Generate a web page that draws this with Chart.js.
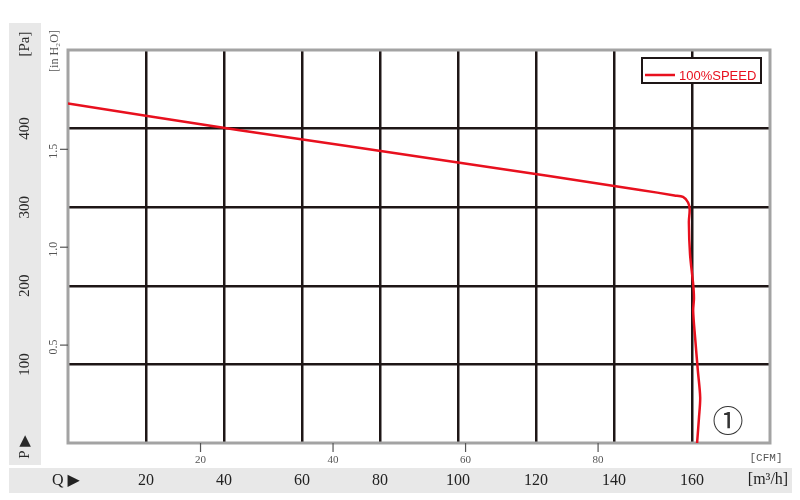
<!DOCTYPE html>
<html>
<head>
<meta charset="utf-8">
<script src="https://cdn.jsdelivr.net/npm/chart.js@4.4.1/dist/chart.umd.min.js"></script>
<style>
  html, body { margin: 0; padding: 0; background: #ffffff; }
  #chart { display: block; }
</style>
</head>
<body>
<canvas id="chart" width="800" height="500"></canvas>
<script>
// P-Q curve (m3/h, Pa)
const flowM3h = [0, 44, 100, 146.7, 155.5, 157.7, 159.0, 159.4, 159.2, 159.5, 160.3, 160.5, 160.3, 160.8, 161.5, 162.1, 161.8, 161.3];
const pressurePa = [432, 398, 357, 322, 315, 313, 306, 297, 281, 240, 202, 184, 168, 134, 92, 58, 33, 0];

// tick labels
const flowTicks = [20, 40, 60, 80, 100, 120, 140, 160];
const paTicks = [100, 200, 300, 400];
const cfmTicks = [20, 40, 60, 80];
const inH2OTicks = ['0.5', '1.0', '1.5'];

const seriesLabel = '100%SPEED';
const CFM_TO_M3H = 1.699;
const INH2O_TO_PA = 249.09;

const RED = '#e8101e';
const GRID = '#1e1616';
const FRAME = '#a3a3a3';
const BAND = '#e8e8e8';

// Gray bands, frame, secondary units and legend
const decorPlugin = {
    id: 'decor',
    beforeDraw(chart) {
        const ctx = chart.ctx;
        ctx.save();
        ctx.fillStyle = BAND;
        ctx.fillRect(9, 23, 32, 442);
        ctx.fillRect(9, 468, 783, 25);
        ctx.restore();
    },
    beforeDatasetsDraw(chart) {
        const ctx = chart.ctx;
        const a = chart.chartArea;
        ctx.save();
        ctx.strokeStyle = FRAME;
        ctx.lineWidth = 3;
        ctx.strokeRect(a.left, a.top, a.right - a.left, a.bottom - a.top);
        ctx.restore();
    },
    afterDraw(chart) {
        const ctx = chart.ctx;
        const a = chart.chartArea;
        const xs = chart.scales.x;
        const ys = chart.scales.y;
        ctx.save();

        // Pa labels (rotated) in the left band
        ctx.fillStyle = '#2a2a2a';
        ctx.font = '15px "Liberation Serif", "DejaVu Serif", serif';
        ctx.textAlign = 'center';
        ctx.textBaseline = 'middle';
        paTicks.forEach(v => {
            ctx.save();
            ctx.translate(25, ys.getPixelForValue(v));
            ctx.rotate(-Math.PI / 2);
            ctx.fillText(String(v), 0, 0);
            ctx.restore();
        });
        ctx.save();
        ctx.translate(25, 44);
        ctx.rotate(-Math.PI / 2);
        ctx.fillText('[Pa]', 0, 0);
        ctx.restore();
        ctx.save();
        ctx.translate(25, 447);
        ctx.rotate(-Math.PI / 2);
        ctx.fillText('P \u25B6', 0, 0);
        ctx.restore();

        // in H2O labels and ticks
        ctx.fillStyle = '#555555';
        ctx.strokeStyle = '#555555';
        ctx.lineWidth = 1.2;
        ctx.font = '12px "Liberation Serif", "DejaVu Serif", serif';
        inH2OTicks.forEach(t => {
            const y = ys.getPixelForValue(parseFloat(t) * INH2O_TO_PA);
            ctx.beginPath();
            ctx.moveTo(60, y);
            ctx.lineTo(a.left, y);
            ctx.stroke();
            ctx.save();
            ctx.translate(54, y + 2);
            ctx.rotate(-Math.PI / 2);
            ctx.fillText(t, 0, 0);
            ctx.restore();
        });
        ctx.save();
        ctx.translate(55, 51);
        ctx.rotate(-Math.PI / 2);
        ctx.fillText('[in H\u2082O]', 0, 0);
        ctx.restore();

        // CFM ticks below the plot
        ctx.font = '11px "Liberation Serif", "DejaVu Serif", serif';
        cfmTicks.forEach(v => {
            const x = xs.getPixelForValue(v * CFM_TO_M3H);
            ctx.beginPath();
            ctx.moveTo(x, a.bottom);
            ctx.lineTo(x, a.bottom + 9);
            ctx.stroke();
            ctx.fillText(String(v), x, 460);
        });
        ctx.font = '11px "Liberation Mono", "DejaVu Sans Mono", monospace';
        ctx.fillText('[CFM]', 766, 458);

        // m3/h labels in the bottom band
        ctx.fillStyle = '#222222';
        ctx.font = '16px "Liberation Serif", "DejaVu Serif", serif';
        flowTicks.forEach(v => {
            ctx.fillText(String(v), xs.getPixelForValue(v), 481);
        });
        ctx.fillText('[m\u00B3/h]', 768, 480);
        ctx.textAlign = 'left';
        ctx.fillText('Q \u25B6', 52, 481);

        // circled number
        ctx.textAlign = 'center';
        ctx.font = '31px "DejaVu Serif", "Noto Sans CJK JP", serif';
        ctx.fillStyle = '#333333';
        ctx.fillText('\u2460', 728, 424);

        // legend box
        ctx.fillStyle = '#ffffff';
        ctx.fillRect(642, 58, 119, 25);
        ctx.strokeStyle = '#1e1616';
        ctx.lineWidth = 2;
        ctx.strokeRect(642, 58, 119, 25);
        ctx.strokeStyle = RED;
        ctx.lineWidth = 2.5;
        ctx.beginPath();
        ctx.moveTo(645, 75);
        ctx.lineTo(675, 75);
        ctx.stroke();
        ctx.fillStyle = RED;
        ctx.textAlign = 'left';
        ctx.font = '13px "Liberation Sans", Arial, sans-serif';
        ctx.fillText(chart.data.datasets[0].label, 679, 76);

        ctx.restore();
    }
};

function gridColor(ctx, max) {
    const v = ctx.tick ? ctx.tick.value : null;
    return (v === 0 || v === max) ? 'rgba(0,0,0,0)' : GRID;
}

new Chart(document.getElementById('chart'), {
    type: 'scatter',
    data: {
        datasets: [{
            label: seriesLabel,
            data: flowM3h.map((q, i) => ({ x: q, y: pressurePa[i] })),
            showLine: true,
            borderColor: RED,
            borderWidth: 2.5,
            pointRadius: 0,
            tension: 0.3,
            fill: false
        }]
    },
    options: {
        responsive: false,
        animation: false,
        devicePixelRatio: 1,
        layout: { padding: { left: 68, right: 30, top: 50, bottom: 57 } },
        plugins: {
            legend: { display: false },
            tooltip: { enabled: false }
        },
        scales: {
            x: {
                type: 'linear',
                min: 0,
                max: 180,
                ticks: { display: false, stepSize: 20 },
                grid: { color: c => gridColor(c, 180), lineWidth: 2.5, drawTicks: false },
                border: { display: false }
            },
            y: {
                type: 'linear',
                min: 0,
                max: 500,
                ticks: { display: false, stepSize: 100 },
                grid: { color: c => gridColor(c, 500), lineWidth: 2.5, drawTicks: false },
                border: { display: false }
            }
        }
    },
    plugins: [decorPlugin]
});
</script>
</body>
</html>
